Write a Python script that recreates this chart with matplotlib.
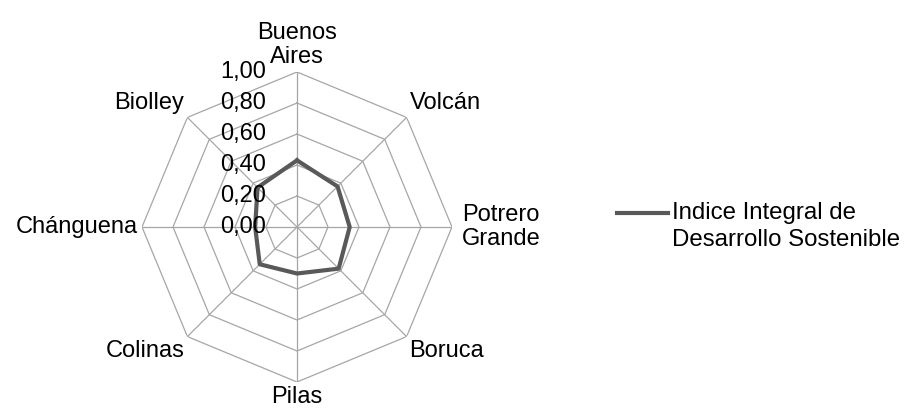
import numpy as np
import matplotlib
matplotlib.use('Agg')
import matplotlib.pyplot as plt
from matplotlib.lines import Line2D

plt.rcParams['font.family'] = ['Liberation Sans', 'DejaVu Sans']

### DATA ###
categories = ['Buenos\nAires', 'Volcán', 'Potrero\nGrande', 'Boruca', 'Pilas',
              'Colinas', 'Chánguena', 'Biolley']
values = [0.43, 0.37, 0.34, 0.38, 0.30, 0.34, 0.27, 0.36]
levels = [0.0, 0.2, 0.4, 0.6, 0.8, 1.0]
level_labels = ['0,00', '0,20', '0,40', '0,60', '0,80', '1,00']
series_lines = ['Indice Integral de', 'Desarrollo Sostenible']

### FIGURE ###
W, H = 908, 413
fig = plt.figure(figsize=(W / 100, H / 100), dpi=100)
cx, cy, R = 297, 227, 155
ax = fig.add_axes([(cx - R) / W, (H - cy - R) / H, 2 * R / W, 2 * R / H], polar=True)
ax.set_theta_zero_location('N')
ax.set_theta_direction(-1)
ax.set_ylim(0, 1.0)
ax.axis('off')

n = len(categories)
angles = np.linspace(0, 2 * np.pi, n, endpoint=False)
closed = np.append(angles, angles[0])

# octagon grid
for lv in levels[1:]:
    ax.plot(closed, [lv] * (n + 1), color='#a6a6a6', lw=0.9, zorder=1)
for a in angles:
    ax.plot([a, a], [0, 1.0], color='#a6a6a6', lw=0.9, zorder=1)

# series
ax.plot(closed, np.append(values, values[0]), color='#595959', lw=3.0, zorder=3)

# radial tick labels
for lv, lab in zip(levels, level_labels):
    ax.annotate(lab, xy=(0, lv), xytext=(-22, 0), textcoords='offset points',
                ha='right', va='center', fontsize=17, zorder=4)

# category labels
for i, (a, lab) in enumerate(zip(angles, categories)):
    s, c = np.sin(a), np.cos(a)
    ha = 'center' if abs(s) < 0.1 else ('left' if s > 0 else 'right')
    va = 'center' if abs(c) < 0.1 else ('bottom' if c > 0 else 'top')
    off = 7 if i == 2 else 3
    ax.annotate(lab, xy=(a, 1.0), xytext=(off * s, off * c), textcoords='offset points',
                ha=ha, va=va, fontsize=17, multialignment='center',
                linespacing=1.12)

# legend, drawn by hand so the line sits on the first text row
fig.add_artist(Line2D([617 / W, 668 / W], [1 - 213 / H, 1 - 213 / H],
                      color='#595959', lw=3.0))
for k, txt in enumerate(series_lines):
    fig.text(672 / W, 1 - (213 + 27 * k) / H, txt, ha='left', va='center', fontsize=17.3)

fig.savefig('out.png', dpi=100)
